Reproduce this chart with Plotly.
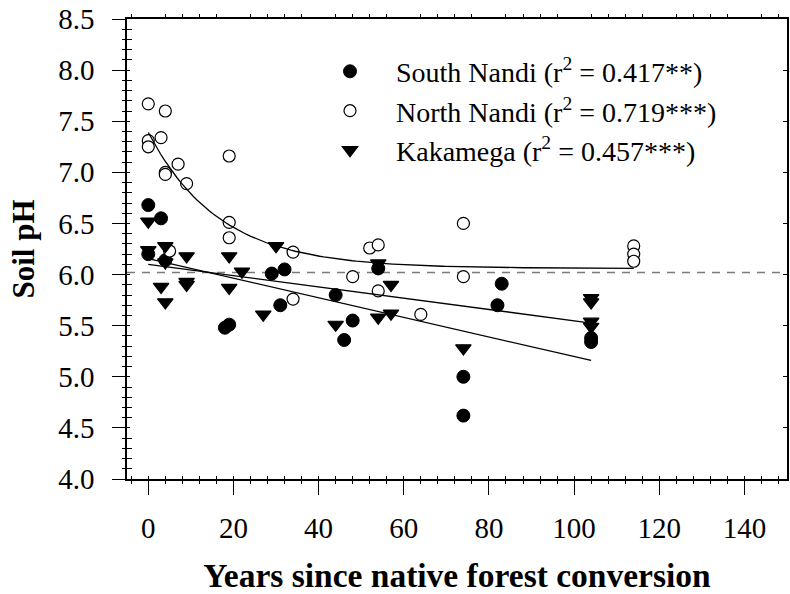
import numpy as np
import plotly.graph_objects as go

# ---------------- data ----------------
south_x = [0, 3, 0, 4, 18, 19, 29, 32, 31, 44, 46, 48, 54, 74, 74, 83, 82, 104, 104]
south_y = [6.68, 6.55, 6.20, 6.14, 5.48, 5.51, 6.01, 6.05, 5.70, 5.80, 5.36, 5.55,
           6.06, 5.00, 4.62, 5.91, 5.70, 5.38, 5.34]

north_x = [0, 4, 0, 0, 3, 4, 4, 7, 9, 19, 19, 19, 34, 5, 34, 52, 54, 48, 54, 64,
           74, 74, 114, 114, 114]
north_y = [7.67, 7.60, 7.31, 7.25, 7.34, 7.00, 6.98, 7.08, 6.89, 7.16, 6.51, 6.36,
           6.22, 6.23, 5.76, 6.26, 6.29, 5.98, 5.84, 5.61, 6.50, 5.98, 6.28, 6.20, 6.13]

kak_x = [0, 0, 4, 4, 9, 3, 4, 9, 9, 19, 19, 22, 30, 27, 54, 57, 54, 57, 44, 74,
         104, 104, 104, 104]
kak_y = [6.52, 6.24, 6.28, 6.12, 6.18, 5.88, 5.73, 5.93, 5.90, 6.18, 5.87, 6.03,
         6.28, 5.61, 6.11, 5.90, 5.58, 5.62, 5.51, 5.28, 5.77, 5.73, 5.54, 5.49]

labels = ["South Nandi (r<sup>2</sup> = 0.417**)",
          "North Nandi (r<sup>2</sup> = 0.719***)",
          "Kakamega (r<sup>2</sup> = 0.457***)"]

# regression coefficients (as drawn)
south_fit = (6.156, -0.00958, 0, 104)     # intercept, slope, x-range
kak_fit = (6.10, -0.00552, 0, 104)
north_fit = (6.06, 1.33, 0.06, 0, 114)    # y = a + b*exp(-c x)
ref_ph = 6.02                              # dashed reference line

x_range = [-5, 150]
y_range = [4.0, 8.5]

FONT = "Liberation Serif"
PAD = "\u00a0" * 3

fig = go.Figure()

# reference dashed line
fig.add_trace(go.Scatter(x=x_range, y=[ref_ph, ref_ph], mode="lines",
                         line=dict(color="#7a7a7a", width=1.5, dash="8px,7px"),
                         showlegend=False, hoverinfo="skip"))

# data points
fig.add_trace(go.Scatter(x=south_x, y=south_y, mode="markers", name=PAD + labels[0],
                         marker=dict(symbol="circle", size=13, color="black",
                                     line=dict(color="black", width=1))))
fig.add_trace(go.Scatter(x=north_x, y=north_y, mode="markers", name=PAD + labels[1],
                         marker=dict(symbol="circle", size=12, color="white",
                                     line=dict(color="black", width=1.2))))
fig.add_trace(go.Scatter(x=kak_x, y=kak_y, mode="markers", name=PAD + labels[2],
                         marker=dict(symbol="triangle-down", size=13.5, color="black",
                                     line=dict(color="black", width=1.2))))

# regression lines
def lin(fit):
    b0, b1, x0, x1 = fit
    xs = np.array([x0, x1], dtype=float)
    return xs, b0 + b1 * xs

for fit in (south_fit, kak_fit):
    xs, ys = lin(fit)
    fig.add_trace(go.Scatter(x=xs, y=ys, mode="lines", line=dict(color="black", width=1.3),
                             showlegend=False, hoverinfo="skip"))

a, b, c, x0, x1 = north_fit
xs = np.linspace(x0, x1, 120)
fig.add_trace(go.Scatter(x=xs, y=a + b * np.exp(-c * xs), mode="lines",
                         line=dict(color="black", width=1.3),
                         showlegend=False, hoverinfo="skip"))

# dummy traces so the extra tick axes are drawn
for xa, ya in (("x2", "y"), ("x3", "y"), ("x", "y2"), ("x", "y3")):
    fig.add_trace(go.Scatter(x=[None], y=[None], xaxis=xa, yaxis=ya,
                             showlegend=False, hoverinfo="skip"))

tickfont = dict(family=FONT, size=29, color="black")
common_x = dict(range=x_range, showgrid=False, zeroline=False, tick0=0, dtick=20)
common_y = dict(range=y_range, showgrid=False, zeroline=False, tick0=4, dtick=0.5)

fig.update_layout(
    width=790, height=594,
    margin=dict(l=127, r=3, t=17, b=115),
    paper_bgcolor="white", plot_bgcolor="white",
    font=dict(family=FONT, color="black"),
    showlegend=True,
    legend=dict(x=0.3, y=0.94, xanchor="left", yanchor="top",
                font=dict(family=FONT, size=28, color="black"),
                bgcolor="rgba(0,0,0,0)", itemwidth=40, tracegroupgap=0),
    xaxis=dict(**common_x, showline=True, linecolor="black", linewidth=1.5,
               ticks="outside", ticklen=14, tickwidth=1.3, tickcolor="black",
               tickfont=tickfont, ticklabelstandoff=8,
               minor=dict(ticks="outside", dtick=4, tick0=0, ticklen=3.5,
                          tickwidth=1.3, tickcolor="black"),
               title=dict(text="<b>Years since native forest conversion</b>",
                          font=dict(family=FONT, size=33.5, color="black"), standoff=22)),
    xaxis2=dict(**common_x, overlaying="x", anchor="y", matches="x",
                showticklabels=False, showline=False,
                ticks="inside", ticklen=3, tickwidth=1.3, tickcolor="black",
                minor=dict(ticks="inside", dtick=4, tick0=0, ticklen=3.5,
                           tickwidth=1.3, tickcolor="black")),
    xaxis3=dict(**common_x, overlaying="x", anchor="y", side="top", matches="x",
                showticklabels=False, showline=True, linecolor="black", linewidth=1.5,
                ticks="",
                minor=dict(ticks="outside", dtick=4, tick0=0, ticklen=3.5,
                           tickwidth=1.3, tickcolor="black")),
    yaxis=dict(**common_y, showline=True, linecolor="black", linewidth=1.5,
               ticks="outside", ticklen=13, tickwidth=1.3, tickcolor="black",
               tickformat=".1f", tickfont=tickfont, ticklabelstandoff=12,
               minor=dict(ticks="outside", dtick=0.1, tick0=4, ticklen=3.7,
                          tickwidth=1.3, tickcolor="black"),
               title=dict(text="<b>Soil pH</b>",
                          font=dict(family=FONT, size=31, color="black"), standoff=14)),
    yaxis2=dict(**common_y, overlaying="y", anchor="x", matches="y",
                showticklabels=False, showline=False,
                ticks="inside", ticklen=3.3, tickwidth=1.3, tickcolor="black",
                minor=dict(ticks="inside", dtick=0.1, tick0=4, ticklen=5,
                           tickwidth=1.3, tickcolor="black")),
    yaxis3=dict(**common_y, overlaying="y", anchor="x", side="right", matches="y",
                showticklabels=False, showline=True, linecolor="black", linewidth=1.5,
                ticks="inside", ticklen=4, tickwidth=1.3, tickcolor="black"),
)

fig.write_html("out.html")
